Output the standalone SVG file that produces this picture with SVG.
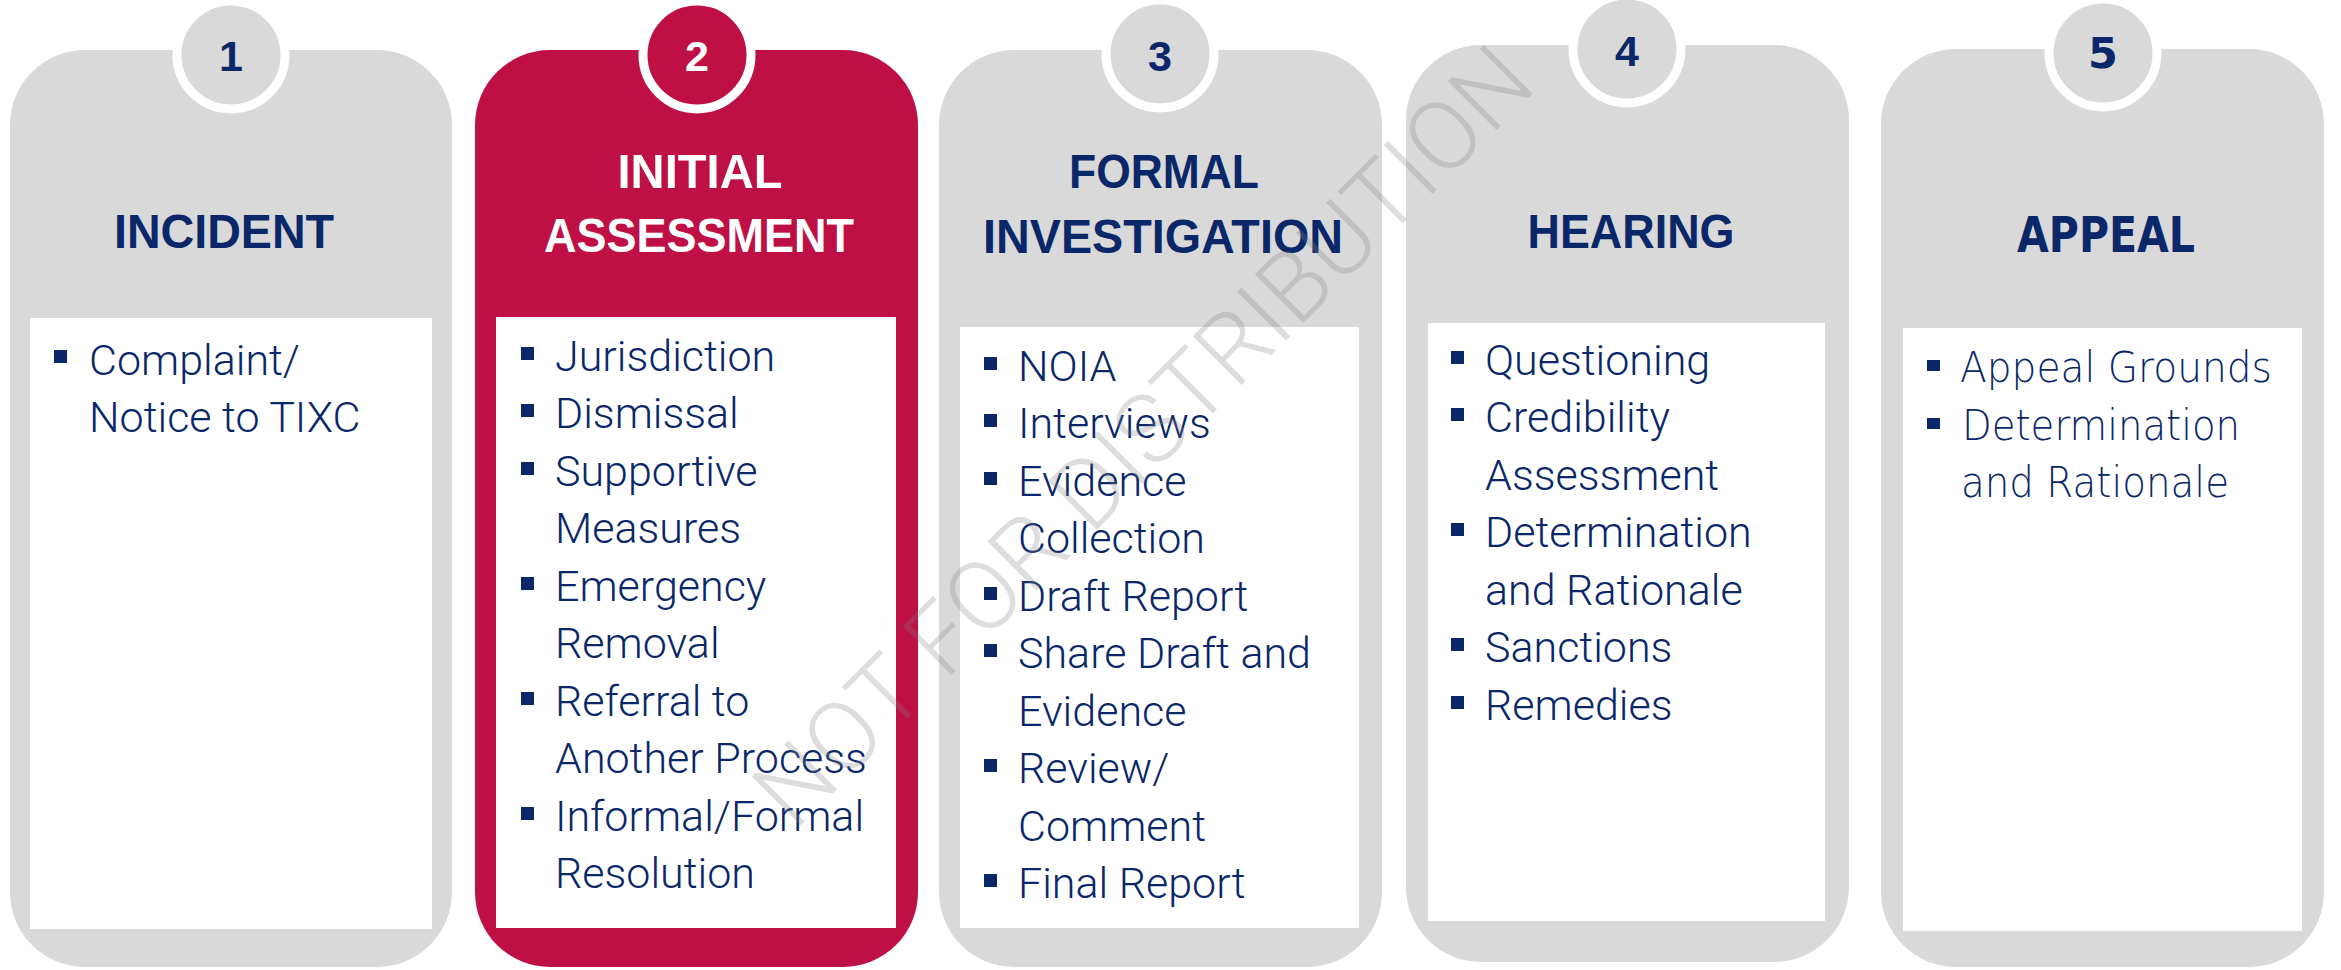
<svg xmlns="http://www.w3.org/2000/svg" width="2341" height="970" viewBox="0 0 2341 970">
<style>
.card{fill:#d9d9d9}
.card.active{fill:#be1045}
.panel{fill:#ffffff}
.badge{fill:#d9d9d9;stroke:#ffffff;stroke-width:9}
.badge.active{fill:#be1045}
.num{font-family:"Liberation Sans",Arial,sans-serif;font-weight:700;font-size:43px;fill:#0a2869;text-anchor:middle}
.num.active{fill:#ffffff}
.title{font-family:"Liberation Sans",Arial,sans-serif;font-weight:700;font-size:49px;fill:#0a2869;text-anchor:middle}
.title.active{fill:#ffffff}
.item{font-family:Roboto,"Liberation Sans",Arial,sans-serif;font-weight:300;font-size:43px;fill:#0a2869}
.wide{font-family:"DejaVu Sans","Liberation Sans",sans-serif}
.bul{fill:#0a2869}
.wm{font-family:Roboto,"Liberation Sans",Arial,sans-serif;font-weight:300;font-size:97px;fill:#808080;fill-opacity:0.27;text-anchor:middle}
</style>

<g id="step1">
<rect class="card" x="10" y="50" width="442" height="917" rx="75" ry="75"/>
<rect class="panel" x="30" y="318" width="402" height="611"/>
<circle class="badge" cx="231" cy="55" r="54"/>
<text class="num" x="231" y="71">1</text>
<text class="title" x="224" y="248" textLength="220" lengthAdjust="spacingAndGlyphs">INCIDENT</text>
<rect class="bul" x="54" y="350" width="13" height="13"/>
<text class="item" x="89" y="375">Complaint/</text>
<text class="item" x="89" y="432">Notice to TIXC</text>
</g>

<g id="step2">
<rect class="card active" x="475" y="50" width="443" height="917" rx="75" ry="75"/>
<rect class="panel" x="496" y="317" width="400" height="611"/>
<circle class="badge active" cx="697" cy="55" r="54"/>
<text class="num active" x="697" y="71">2</text>
<text class="title active" x="700" y="188" textLength="165" lengthAdjust="spacingAndGlyphs">INITIAL</text>
<text class="title active" x="699" y="252" textLength="310" lengthAdjust="spacingAndGlyphs">ASSESSMENT</text>
<rect class="bul" x="521" y="347" width="13" height="13"/>
<text class="item" x="555" y="371">Jurisdiction</text>
<rect class="bul" x="521" y="404" width="13" height="13"/>
<text class="item" x="555" y="428">Dismissal</text>
<rect class="bul" x="521" y="462" width="13" height="13"/>
<text class="item" x="555" y="486">Supportive</text>
<text class="item" x="555" y="543">Measures</text>
<rect class="bul" x="521" y="577" width="13" height="13"/>
<text class="item" x="555" y="601">Emergency</text>
<text class="item" x="555" y="658">Removal</text>
<rect class="bul" x="521" y="692" width="13" height="13"/>
<text class="item" x="555" y="716">Referral to</text>
<text class="item" x="555" y="773">Another Process</text>
<rect class="bul" x="521" y="807" width="13" height="13"/>
<text class="item" x="555" y="831">Informal/Formal</text>
<text class="item" x="555" y="888">Resolution</text>
</g>

<g id="step3">
<rect class="card" x="939" y="50" width="443" height="917" rx="75" ry="75"/>
<rect class="panel" x="960" y="327" width="399" height="601"/>
<circle class="badge" cx="1160" cy="54" r="54"/>
<text class="num" x="1160" y="71">3</text>
<text class="title" x="1164" y="188" textLength="190" lengthAdjust="spacingAndGlyphs">FORMAL</text>
<text class="title" x="1163" y="253" textLength="360" lengthAdjust="spacingAndGlyphs">INVESTIGATION</text>
<rect class="bul" x="984" y="357" width="13" height="13"/>
<text class="item" x="1018" y="381">NOIA</text>
<rect class="bul" x="984" y="414" width="13" height="13"/>
<text class="item" x="1018" y="438">Interviews</text>
<rect class="bul" x="984" y="472" width="13" height="13"/>
<text class="item" x="1018" y="496">Evidence</text>
<text class="item" x="1018" y="553">Collection</text>
<rect class="bul" x="984" y="587" width="13" height="13"/>
<text class="item" x="1018" y="611">Draft Report</text>
<rect class="bul" x="984" y="644" width="13" height="13"/>
<text class="item" x="1018" y="668">Share Draft and</text>
<text class="item" x="1018" y="726">Evidence</text>
<rect class="bul" x="984" y="759" width="13" height="13"/>
<text class="item" x="1018" y="783">Review/</text>
<text class="item" x="1018" y="841">Comment</text>
<rect class="bul" x="984" y="874" width="13" height="13"/>
<text class="item" x="1018" y="898">Final Report</text>
</g>

<g id="step4">
<rect class="card" x="1406" y="45" width="443" height="917" rx="75" ry="75"/>
<rect class="panel" x="1428" y="323" width="397" height="598"/>
<circle class="badge" cx="1627" cy="49" r="54"/>
<text class="num" x="1627" y="66">4</text>
<text class="title" x="1631" y="248" textLength="207" lengthAdjust="spacingAndGlyphs">HEARING</text>
<rect class="bul" x="1451" y="351" width="13" height="13"/>
<text class="item" x="1485" y="375">Questioning</text>
<rect class="bul" x="1451" y="408" width="13" height="13"/>
<text class="item" x="1485" y="432">Credibility</text>
<text class="item" x="1485" y="490">Assessment</text>
<rect class="bul" x="1451" y="523" width="13" height="13"/>
<text class="item" x="1485" y="547">Determination</text>
<text class="item" x="1485" y="605">and Rationale</text>
<rect class="bul" x="1451" y="638" width="13" height="13"/>
<text class="item" x="1485" y="662">Sanctions</text>
<rect class="bul" x="1451" y="696" width="13" height="13"/>
<text class="item" x="1485" y="720">Remedies</text>
</g>

<g id="step5">
<rect class="card" x="1881" y="49" width="443" height="918" rx="75" ry="75"/>
<rect class="panel" x="1903" y="328" width="399" height="603"/>
<circle class="badge" cx="2103" cy="53" r="54"/>
<text class="num wide" x="2103" y="68" font-size="42">5</text>
<text class="title wide" x="2106" y="252" font-size="46" textLength="178" lengthAdjust="spacingAndGlyphs">APPEAL</text>
<rect class="bul" x="1927" y="360" width="13" height="11"/>
<text class="item wide" x="1960" y="382" font-size="40" textLength="312" lengthAdjust="spacingAndGlyphs">Appeal Grounds</text>
<rect class="bul" x="1927" y="418" width="13" height="11"/>
<text class="item wide" x="1962" y="440" font-size="40" textLength="278" lengthAdjust="spacingAndGlyphs">Determination</text>
<text class="item wide" x="1961" y="497" font-size="40" textLength="268" lengthAdjust="spacingAndGlyphs">and Rationale</text>
</g>

<g id="connectors"></g>

<text class="wm" x="1142" y="470" transform="rotate(-45 1142 435)">NOT FOR DISTRIBUTION</text>
</svg>
